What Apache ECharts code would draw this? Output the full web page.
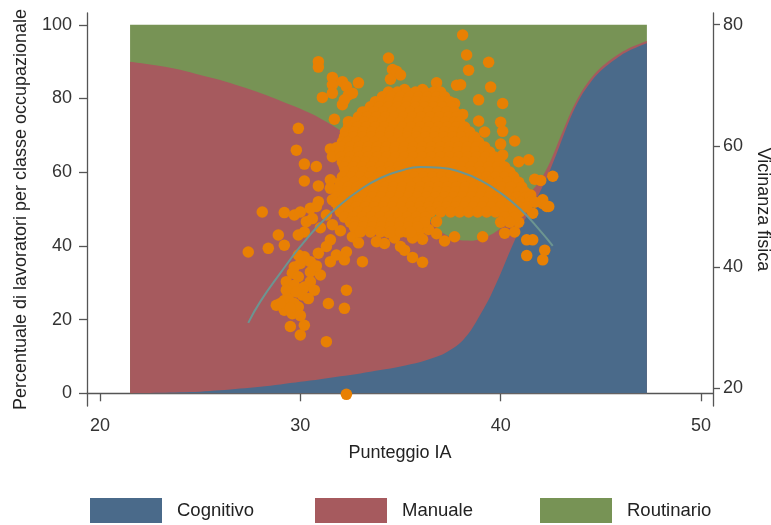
<!DOCTYPE html>
<html>
<head>
<meta charset="utf-8">
<script src="https://cdn.jsdelivr.net/npm/echarts@6/dist/echarts.min.js"></script>
<style>
  html, body { margin: 0; padding: 0; background: #ffffff; }
  #chart { width: 771px; height: 525px; }
</style>
</head>
<body>
<div id="chart"></div>
<script>
const FONT = 'Liberation Sans';

// Occupational class shares (percent of workers) along the AI score
const scoreGrid  = [21.5, 22, 23, 24, 25, 26, 27, 28, 29, 30, 31, 32, 33, 34, 35, 36, 37, 37.5, 38, 38.5,
                    39, 39.5, 40, 40.5, 41, 41.5, 42, 42.5, 43, 43.5, 44, 44.5, 45, 45.5, 46, 46.5, 47, 47.3];
const cognitivo  = [0, 0.05, 0.15, 0.3, 0.45, 0.8, 1.3, 1.8, 2.4, 3.1, 3.8, 4.6, 5.4, 6.3, 7.3, 8.5, 10.3, 11.8, 13.8, 17,
                    21.5, 26.5, 32.5, 39, 45, 50, 55, 61, 68, 75, 80.5, 84.5, 87.5, 89.8, 91.7, 93.2, 94.4, 95];
const manuale    = [90, 89.55, 88.65, 87.5, 85.95, 84.2, 82.0, 79.7, 77.0, 74.1, 70.8, 66.7, 61.6, 55.4, 48.3, 40.8, 33.7, 30.6, 27.7, 24.4,
                    20.4, 16.5, 12.3, 8.5, 6.0, 4.5, 3.0, 2.2, 1.8, 1.3, 1.0, 0.9, 0.9, 0.8, 0.7, 0.7, 0.6, 0.6];
const routinario = [10, 10.4, 11.2, 12.2, 13.6, 15.0, 16.7, 18.5, 20.6, 22.8, 25.4, 28.7, 33.0, 38.3, 44.4, 50.7, 56.0, 57.6, 58.5, 58.6,
                    58.1, 57.0, 55.2, 52.5, 49, 45.5, 42, 36.8, 30.2, 23.7, 18.5, 14.6, 11.6, 9.4, 7.6, 6.1, 5.0, 4.4];

// Physical proximity of single occupations: [AI score, proximity]
const proximityPoints = [
  [30.9,73.9],[30.9,73.0],[34.4,74.5],[34.6,72.6],[34.5,71.0],[31.6,71.3],[32.1,70.6],[32.9,70.4],[31.6,70.1],[31.6,68.7],
  [31.1,68.0],[32.3,69.8],[32.4,68.4],[32.6,68.7],[32.1,66.8],[32.2,67.6],[33.1,65.6],[31.7,64.4],[29.9,62.9],[29.8,59.3],
  [30.2,57.0],[30.8,56.6],[30.2,54.2],[30.9,53.4],[31.5,54.4],[31.5,53.0],[31.5,59.5],[31.8,59.7],[32.3,59.1],[31.6,58.2],
  [32.2,61.3],[32.4,64.0],[32.6,57.0],[32.1,53.3],[30.9,50.8],[31.6,51.1],
  [38.1,78.3],[38.3,75.0],[39.4,73.8],[38.4,72.5],[38.0,70.1],[37.8,70.0],[39.5,69.7],[36.8,70.4],[36.1,69.3],[35.2,69.3],
  [34.8,72.3],[35.0,71.7],[38.9,67.6],[40.1,67.0],[37.7,67.0],[38.1,65.2],[38.9,64.1],[40.0,63.9],[40.7,60.8],[40.1,62.4],
  [40.0,60.3],[39.2,62.3],[40.1,58.5],[40.9,57.4],[41.4,57.7],[41.7,54.5],[42.0,54.3],[42.6,55.0],[40.6,55.0],[42.1,51.1],
  [41.5,51.9],[42.1,50.5],[42.4,50.0],
  [41.3,44.5],[41.6,44.5],[42.2,42.8],[42.1,41.2],[41.3,41.9],[42.3,50.0],[41.6,48.9],[35.0,43.4],[35.2,42.8],[35.6,41.6],
  [36.1,40.8],[35.9,45.8],[36.1,44.6],[37.7,45.0],[39.1,45.0],[36.8,47.5],[40.2,45.6],[40.7,45.8],
  [28.1,49.1],[27.4,42.5],[28.4,43.1],[28.9,45.3],[29.2,43.6],[29.2,49.0],[29.7,48.6],[30.0,49.1],[30.5,49.7],[30.8,50.0],
  [30.3,47.5],[30.2,45.8],[29.9,45.3],[30.2,41.7],[30.5,40.9],[29.7,40.0],[29.6,39.0],[29.9,38.4],[30.5,39.2],[31.0,38.7],
  [29.3,37.6],[29.7,37.0],[30.2,36.7],[30.7,36.2],[30.1,35.4],[30.4,34.8],[28.8,33.7],[29.2,34.5],[29.4,34.8],[29.7,34.0],
  [29.9,33.4],[29.2,32.9],[29.6,32.3],[31.4,34.0],[32.3,36.2],[32.2,33.2],[29.5,30.2],[30.2,30.4],[30.0,28.8],[31.3,27.7],
  [32.3,19.0],[33.1,40.9],[31.5,40.9],[32.2,41.2],[32.3,42.5],[31.8,42.0],[30.9,42.3],[31.3,43.4],[31.5,44.5],[33.8,44.2],
  [34.2,43.9],[31.0,46.5],[31.6,47.0],[32.0,46.0],[32.6,45.0],[32.9,44.0],[31.3,48.6],[30.6,48.0],
  [29.9,42.0],[30.0,40.6],[30.8,40.2],[29.3,36.2],[29.8,35.9],[30.5,37.6],[29.5,33.3],[30.0,32.0],[29.0,34.0],
  [40.9,49.6],[41.3,50.3],[40.5,48.2],[40.9,47.4],[36.8,45.5],[36.4,46.2],[35.6,44.8],[35.3,45.8],[34.7,44.8],[34.4,45.7],
  [37.2,44.3]
];

// Dense core of occupations, row by row: [proximity, AI scores]
const proximityCoreRows = [
  [68.9,  [34.4, 34.85, 35.3, 35.75, 36.2, 36.65, 37.0]],
  [68.1,  [34.1, 34.55, 35.0, 35.45, 35.9, 36.35, 36.8, 37.2]],
  [67.3,  [33.75, 34.0, 34.45, 34.9, 35.35, 35.8, 36.25, 36.7, 37.15, 37.45]],
  [66.45, [33.5, 33.95, 34.4, 34.85, 35.3, 35.75, 36.2, 36.65, 37.1, 37.55]],
  [65.6,  [33.25, 33.7, 34.15, 34.6, 35.05, 35.5, 35.95, 36.4, 36.85, 37.3, 37.7]],
  [64.75, [32.9, 33.35, 33.8, 34.25, 34.7, 35.15, 35.6, 36.05, 36.5, 36.95, 37.4, 37.8]],
  [63.9,  [32.5, 32.75, 33.2, 33.65, 34.1, 34.55, 35.0, 35.45, 35.9, 36.35, 36.8, 37.25, 37.7, 37.95]],
  [63.1,  [32.4, 32.85, 33.3, 33.75, 34.2, 34.65, 35.1, 35.55, 36.0, 36.45, 36.9, 37.35, 37.8, 38.2]],
  [62.3,  [32.25, 32.7, 33.15, 33.6, 34.05, 34.5, 34.95, 35.4, 35.85, 36.3, 36.75, 37.2, 37.65, 38.1, 38.45]],
  [61.45, [32.2, 32.65, 33.1, 33.55, 34.0, 34.45, 34.9, 35.35, 35.8, 36.25, 36.7, 37.15, 37.6, 38.05, 38.5, 38.7]],
  [60.6,  [32.1, 32.35, 32.8, 33.25, 33.7, 34.15, 34.6, 35.05, 35.5, 35.95, 36.4, 36.85, 37.3, 37.75, 38.2, 38.65, 38.9]],
  [59.8,  [32.05, 32.5, 32.95, 33.4, 33.85, 34.3, 34.75, 35.2, 35.65, 36.1, 36.55, 37.0, 37.45, 37.9, 38.35, 38.8, 39.2]],
  [59.0,  [32.0, 32.45, 32.9, 33.35, 33.8, 34.25, 34.7, 35.15, 35.6, 36.05, 36.5, 36.95, 37.4, 37.85, 38.3, 38.75, 39.2, 39.45]],
  [58.15, [32.05, 32.5, 32.95, 33.4, 33.85, 34.3, 34.75, 35.2, 35.65, 36.1, 36.55, 37.0, 37.45, 37.9, 38.35, 38.8, 39.25, 39.7]],
  [57.3,  [32.1, 32.35, 32.8, 33.25, 33.7, 34.15, 34.6, 35.05, 35.5, 35.95, 36.4, 36.85, 37.3, 37.75, 38.2, 38.65, 39.1, 39.55, 39.95]],
  [56.5,  [32.2, 32.65, 33.1, 33.55, 34.0, 34.45, 34.9, 35.35, 35.8, 36.25, 36.7, 37.15, 37.6, 38.05, 38.5, 38.95, 39.4, 39.85, 40.2]],
  [55.7,  [32.25, 32.7, 33.15, 33.6, 34.05, 34.5, 34.95, 35.4, 35.85, 36.3, 36.75, 37.2, 37.65, 38.1, 38.55, 39.0, 39.45, 39.9, 40.35, 40.45]],
  [54.85, [32.1, 32.55, 33.0, 33.45, 33.9, 34.35, 34.8, 35.25, 35.7, 36.15, 36.6, 37.05, 37.5, 37.95, 38.4, 38.85, 39.3, 39.75, 40.2, 40.65]],
  [54.0,  [32.0, 32.25, 32.7, 33.15, 33.6, 34.05, 34.5, 34.95, 35.4, 35.85, 36.3, 36.75, 37.2, 37.65, 38.1, 38.55, 39.0, 39.45, 39.9, 40.35, 40.8, 40.9]],
  [53.2,  [31.95, 32.4, 32.85, 33.3, 33.75, 34.2, 34.65, 35.1, 35.55, 36.0, 36.45, 36.9, 37.35, 37.8, 38.25, 38.7, 39.15, 39.6, 40.05, 40.5, 41.05]],
  [52.4,  [31.9, 32.35, 32.8, 33.25, 33.7, 34.15, 34.6, 35.05, 35.5, 35.95, 36.4, 36.85, 37.3, 37.75, 38.2, 38.65, 39.1, 39.55, 40.0, 40.45, 40.9, 41.2]],
  [51.55, [31.8, 32.25, 32.7, 33.15, 33.6, 34.05, 34.5, 34.95, 35.4, 35.85, 36.3, 36.75, 37.2, 37.65, 38.1, 38.55, 39.0, 39.45, 39.9, 40.35, 40.8, 41.25, 41.45]],
  [50.7,  [31.75, 32.0, 32.45, 32.9, 33.35, 33.8, 34.25, 34.7, 35.15, 35.6, 36.05, 36.5, 36.95, 37.4, 37.85, 38.3, 38.75, 39.2, 39.65, 40.1, 40.55, 41.0, 41.45, 41.7]],
  [49.9,  [31.9, 32.35, 32.8, 33.25, 33.7, 34.15, 34.6, 35.05, 35.5, 35.95, 36.4, 36.85, 37.3, 37.75, 38.2, 38.65, 39.1, 39.55, 40.0, 40.45, 40.9, 41.3]],
  [49.1,  [32.0, 32.45, 32.9, 33.35, 33.8, 34.25, 34.7, 35.15, 35.6, 36.05, 36.5, 37.0, 37.5, 37.95, 38.4, 38.85, 39.3, 39.75, 40.2, 40.65, 40.95]],
  [48.25, [32.2, 32.65, 33.1, 33.55, 34.0, 34.45, 34.9, 35.35, 35.8, 36.25, 40.2, 40.7]],
  [47.4,  [32.5, 32.75, 33.2, 33.65, 34.1, 34.55, 35.0, 35.45, 35.9, 36.2, 40.0, 40.45]],
  [46.6,  [32.7, 33.15, 33.6, 34.05, 34.5, 34.95, 35.4, 35.85]],
  [45.8,  [33.0, 33.5, 34.0, 34.5, 35.0, 35.5]]
];

// Fitted proximity curve
const fitScore     = [27.4, 28, 29, 30, 31, 32, 33, 34, 35, 36, 37, 38, 39, 40, 41, 42, 42.6];
const fitProximity = [30.8, 34.3, 39.0, 43.4, 47.2, 50.3, 52.8, 54.7, 55.9, 56.5, 56.4, 55.7, 54.3, 52.2, 49.5, 45.9, 43.5];

// Axis ticks
const scoreTicks = [20, 30, 40, 50];
const shareTicks = [0, 20, 40, 60, 80, 100];
const proximityTicks = [20, 40, 60, 80];

const COLORS = { cog: '#4a6a8a', man: '#a65a5e', rout: '#779355', dot: '#e88003', fit: '#6c9591' };

// Cumulative upper edges of the three stacked bands
const edgeCog = cognitivo.slice();
const edgeMan = cognitivo.map((v, i) => v + manuale[i]);
const edgeRout = edgeMan.map((v, i) => v + routinario[i]);

const zip = (xs, ys) => xs.map((x, i) => [x, ys[i]]);
const coreData = [];
proximityCoreRows.forEach(([p, scores]) => scores.forEach(s => coreData.push([s, p])));
const scatterData = proximityPoints.concat(coreData);

const axisLineStyle = { color: '#555555', width: 1.3 };
const labelStyle = { fontFamily: FONT, fontSize: 18, color: '#333333' };
const nameStyle = { fontFamily: FONT, fontSize: 18, color: '#222222' };

// Each band is filled from the axis up to its cumulative edge; later bands paint over earlier ones
function bandSeries(name, edge, color) {
  return {
    name, type: 'line', data: zip(scoreGrid, edge),
    xAxisIndex: 0, yAxisIndex: 0,
    smooth: 0.3, symbol: 'none', color,
    lineStyle: { width: 0 },
    areaStyle: { color, opacity: 1, origin: 0 },
    emphasis: { disabled: true }, silent: true, z: 1
  };
}

function legendAt(name, left) {
  return {
    data: [name], left, top: 498, padding: 0,
    icon: 'rect', itemWidth: 72, itemHeight: 25, selectedMode: false,
    textStyle: { fontFamily: FONT, fontSize: 18.5, color: '#222222', padding: [0, 0, 0, 10] }
  };
}

const chart = echarts.init(document.getElementById('chart'), null, { renderer: 'canvas' });
chart.setOption({
  animation: false,
  backgroundColor: '#ffffff',
  grid: { left: 87, right: 58, top: 13, bottom: 119, containLabel: false, outerBoundsMode: 'none' },
  legend: [legendAt('Cognitivo', 90), legendAt('Manuale', 315), legendAt('Routinario', 540)],
  xAxis: {
    type: 'value', min: 19.35, max: 50.6,
    name: 'Punteggio IA', nameLocation: 'middle', nameGap: 38, nameTextStyle: nameStyle,
    axisLine: { show: true, lineStyle: axisLineStyle },
    axisTick: { show: true, length: 8, customValues: scoreTicks, lineStyle: axisLineStyle },
    axisLabel: Object.assign({ customValues: scoreTicks, margin: 11 }, labelStyle),
    splitLine: { show: false }
  },
  yAxis: [
    {
      type: 'value', position: 'left', min: -3.45, max: 103.2,
      name: 'Percentuale di lavoratori per classe occupazionale',
      nameLocation: 'middle', nameGap: 57, nameTextStyle: nameStyle,
      axisLine: { show: true, lineStyle: axisLineStyle },
      axisTick: { show: true, length: 8, customValues: shareTicks, lineStyle: axisLineStyle },
      axisLabel: Object.assign({ customValues: shareTicks, margin: 15 }, labelStyle),
      splitLine: { show: false }
    },
    {
      type: 'value', position: 'right', min: 17.08, max: 81.93,
      name: 'Vicinanza fisica', nameLocation: 'middle', nameGap: 40, nameRotate: -90,
      nameTextStyle: nameStyle,
      axisLine: { show: true, lineStyle: axisLineStyle },
      axisTick: { show: true, length: 7, customValues: proximityTicks, lineStyle: axisLineStyle },
      axisLabel: Object.assign({ customValues: proximityTicks, margin: 10 }, labelStyle),
      splitLine: { show: false }
    }
  ],
  series: [
    bandSeries('Routinario', edgeRout, COLORS.rout),
    bandSeries('Manuale', edgeMan, COLORS.man),
    bandSeries('Cognitivo', edgeCog, COLORS.cog),
    {
      name: 'Vicinanza', type: 'scatter', xAxisIndex: 0, yAxisIndex: 1,
      data: scatterData, symbolSize: 11.5,
      itemStyle: { color: COLORS.dot, opacity: 1 },
      silent: true, z: 3
    },
    {
      name: 'Fit', type: 'line', xAxisIndex: 0, yAxisIndex: 1,
      data: zip(fitScore, fitProximity), smooth: true, symbol: 'none',
      lineStyle: { color: COLORS.fit, width: 2 },
      silent: true, z: 4
    }
  ]
});
</script>
</body>
</html>
